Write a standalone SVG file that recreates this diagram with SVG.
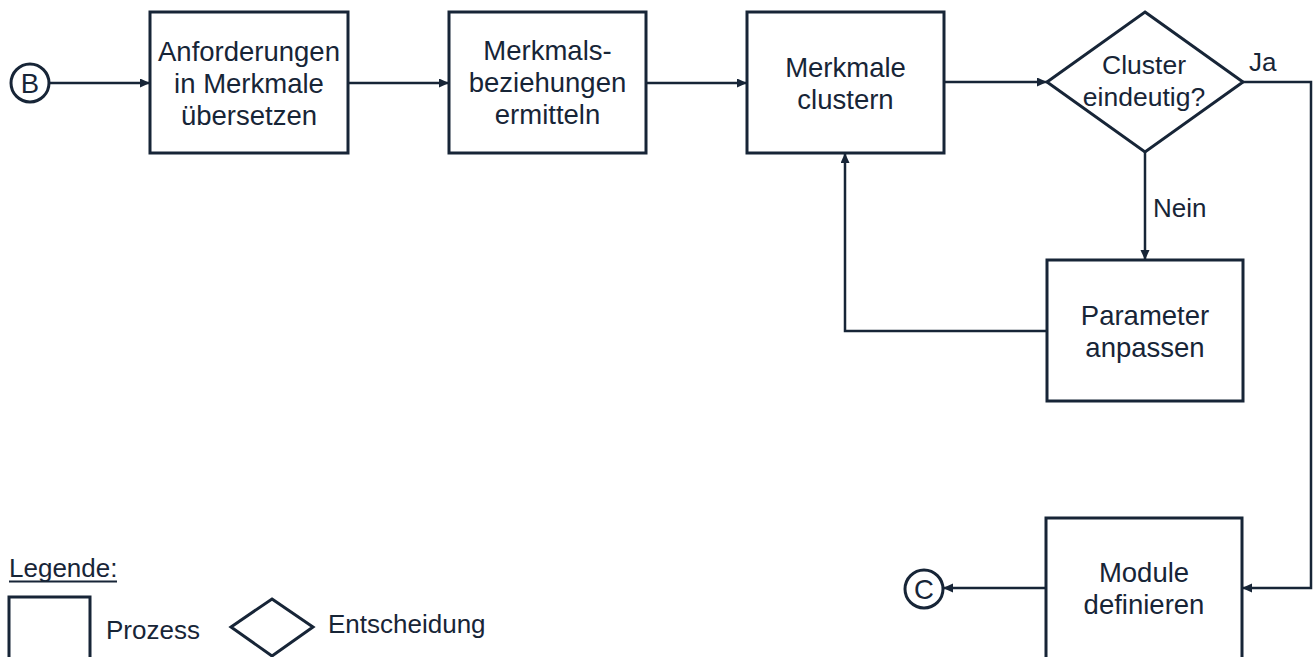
<svg xmlns="http://www.w3.org/2000/svg" width="1313" height="657" viewBox="0 0 1313 657">
  <style>
    .box { fill: #ffffff; stroke: #172537; stroke-width: 3; }
    .con { fill: none; stroke: #172537; stroke-width: 2.5; }
    .t { font-family: "Liberation Sans", Arial, sans-serif; font-size: 27.5px; fill: #172537; }
    .s { font-size: 26.5px; }
    .l { font-size: 26px; }
    .c { text-anchor: middle; }
  </style>
  <defs>
    <marker id="arrow" markerUnits="userSpaceOnUse" markerWidth="11" markerHeight="10" refX="10" refY="4.5" orient="auto">
      <path d="M0,0 L10,4.5 L0,9 z" fill="#172537"/>
    </marker>
  </defs>
  <rect width="1313" height="657" fill="#ffffff"/>

  <!-- connectors -->
  <g id="connectors">
    <line class="con" x1="49" y1="83" x2="150" y2="83" marker-end="url(#arrow)"/>
    <line class="con" x1="348" y1="83" x2="449" y2="83" marker-end="url(#arrow)"/>
    <line class="con" x1="646" y1="83" x2="747" y2="83" marker-end="url(#arrow)"/>
    <line class="con" x1="944" y1="82" x2="1047" y2="82" marker-end="url(#arrow)"/>
    <line class="con" x1="1145" y1="152" x2="1145" y2="260" marker-end="url(#arrow)"/>
    <polyline class="con" points="1243,82 1311,82 1311,588 1242,588" marker-end="url(#arrow)"/>
    <polyline class="con" points="1047,331 845,331 845,153" marker-end="url(#arrow)"/>
    <line class="con" x1="1046" y1="588" x2="943" y2="588" marker-end="url(#arrow)"/>
    <text class="t l" x="1249" y="71">Ja</text>
    <text class="t l" x="1153" y="217">Nein</text>
  </g>

  <!-- connector B -->
  <g id="start-B">
    <circle class="box" cx="30" cy="83" r="19" stroke-width="2.5"/>
    <text class="t c" x="30" y="93">B</text>
  </g>

  <g id="anforderungen">
    <rect class="box" x="150" y="12" width="198" height="141"/>
    <text class="t c" x="249" y="61">Anforderungen</text>
    <text class="t c" x="249" y="93">in Merkmale</text>
    <text class="t c" x="249" y="125">übersetzen</text>
  </g>

  <g id="beziehungen">
    <rect class="box" x="449" y="12" width="197" height="141"/>
    <text class="t c" x="547.5" y="60">Merkmals-</text>
    <text class="t c" x="547.5" y="92">beziehungen</text>
    <text class="t c" x="547.5" y="124">ermitteln</text>
  </g>

  <g id="clustern">
    <rect class="box" x="747" y="12" width="197" height="141"/>
    <text class="t c" x="845.5" y="77">Merkmale</text>
    <text class="t c" x="845.5" y="109">clustern</text>
  </g>

  <g id="entscheidung">
    <polygon class="box" points="1145,12 1243,82 1145,152 1047,82"/>
    <text class="t s c" x="1144" y="74">Cluster</text>
    <text class="t s c" x="1144" y="106">eindeutig?</text>
  </g>

  <g id="parameter">
    <rect class="box" x="1047" y="260" width="196" height="141"/>
    <text class="t c" x="1145" y="325">Parameter</text>
    <text class="t c" x="1145" y="357">anpassen</text>
  </g>

  <g id="module">
    <rect class="box" x="1046" y="518" width="196" height="142"/>
    <text class="t c" x="1144" y="582">Module</text>
    <text class="t c" x="1144" y="614">definieren</text>
  </g>

  <!-- connector C -->
  <g id="end-C">
    <circle class="box" cx="924" cy="589" r="19" stroke-width="2.5"/>
    <text class="t c" x="924" y="599">C</text>
  </g>

  <!-- legend -->
  <g id="legende">
    <text class="t l" x="9" y="577">Legende:</text>
    <line x1="9" y1="581.5" x2="117" y2="581.5" stroke="#172537" stroke-width="2"/>
    <rect class="box" x="9" y="597" width="81" height="80"/>
    <text class="t l" x="106" y="639">Prozess</text>
    <polygon class="box" points="272,599 313,627 272,656 231,627"/>
    <text class="t l" x="328" y="633">Entscheidung</text>
  </g>
</svg>
